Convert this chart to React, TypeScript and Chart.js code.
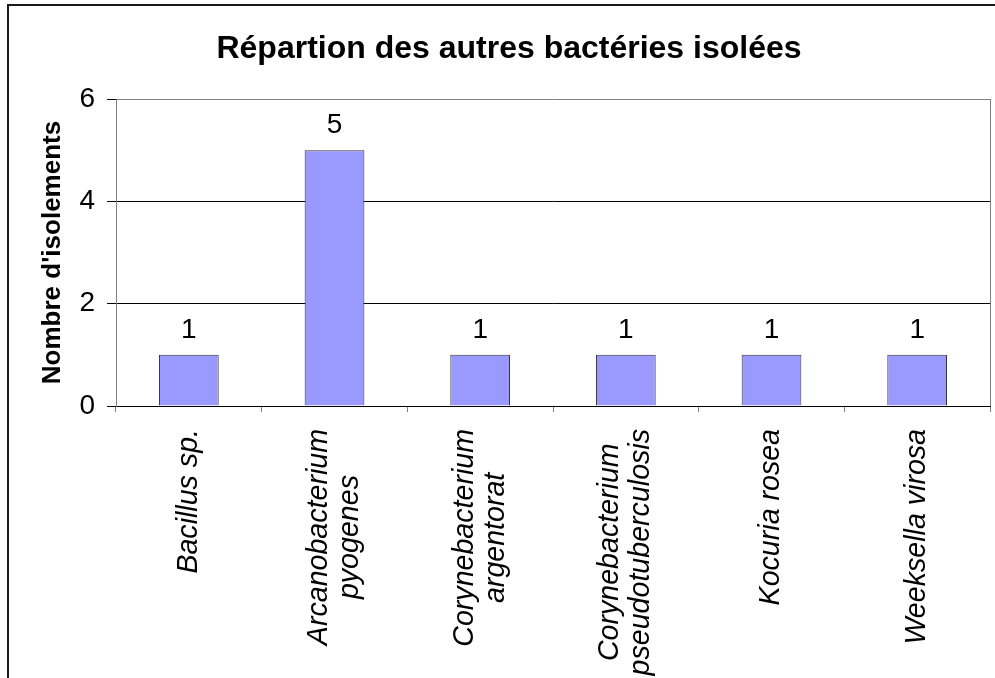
import React, { useEffect, useRef } from "react";
import { Chart, registerables } from "chart.js";

Chart.register(...registerables);

const FONT = '"Liberation Sans", Arial, sans-serif';

const titleText = "Répartion des autres bactéries isolées";
const yAxisTitle = "Nombre d'isolements";
const categories: string[][] = [
  ["Bacillus sp."],
  ["Arcanobacterium", "pyogenes"],
  ["Corynebacterium", "argentorat"],
  ["Corynebacterium", "pseudotuberculosis"],
  ["Kocuria rosea"],
  ["Weeksella virosa"],
];
const counts: number[] = [1, 5, 1, 1, 1, 1];
const yMin = 0;
const yMax = 6;
const yStep = 2;

const decorPlugin = {
  id: "decor",
  afterDatasetsDraw(chart: any) {
    const ctx = chart.ctx;
    const meta = chart.getDatasetMeta(0);
    ctx.save();
    ctx.fillStyle = "#000";
    ctx.font = `28px ${FONT}`;
    ctx.textAlign = "center";
    ctx.textBaseline = "alphabetic";
    meta.data.forEach((bar: any, i: number) => {
      ctx.fillText(String(chart.data.datasets[0].data[i]), bar.x, bar.y - 17);
    });
    ctx.restore();
  },
  afterDraw(chart: any) {
    const ctx = chart.ctx;
    const area = chart.chartArea;
    const xScale = chart.scales.x;
    ctx.save();
    // plot area right border
    ctx.strokeStyle = "#808080";
    ctx.lineWidth = 1;
    ctx.beginPath();
    ctx.moveTo(Math.round(area.right) + 0.5, area.top);
    ctx.lineTo(Math.round(area.right) + 0.5, area.bottom);
    ctx.stroke();
    // outer frame
    ctx.strokeStyle = "#1a1a1a";
    ctx.lineWidth = 2;
    ctx.strokeRect(8, 5, 3000, 3000);
    // x category labels (rotated, lines centered)
    ctx.fillStyle = "#000";
    ctx.font = `italic 28.6px ${FONT}`;
    ctx.textAlign = "center";
    ctx.textBaseline = "middle";
    const lh = 31;
    const labels = chart.data.labels as string[][];
    labels.forEach((lines: string[], i: number) => {
      const x = xScale.getPixelForValue(i);
      const w = Math.max(...lines.map((l) => ctx.measureText(l).width));
      ctx.save();
      ctx.translate(x, area.bottom + 23);
      ctx.rotate(-Math.PI / 2);
      lines.forEach((line, j) => {
        const off = (j - (lines.length - 1) / 2) * lh;
        ctx.fillText(line, -w / 2, off);
      });
      ctx.restore();
    });
    ctx.restore();
  },
};

export default function App() {
  const ref = useRef<HTMLCanvasElement | null>(null);
  useEffect(() => {
    if (!ref.current) return;
    const chart = new Chart(ref.current, {
      type: "bar",
      data: {
        labels: categories,
        datasets: [
          {
            data: counts,
            backgroundColor: "#9999FF",
            borderColor: "#333333",
            borderWidth: 1,
            categoryPercentage: 1,
            barPercentage: 0.41,
          },
        ],
      },
      options: {
        responsive: false,
        animation: false,
        devicePixelRatio: 1,
        layout: { padding: { left: 28, right: 5, top: 0, bottom: 0 } },
        plugins: {
          legend: { display: false },
          tooltip: { enabled: false },
          title: {
            display: true,
            text: titleText,
            color: "#000",
            font: { family: FONT, size: 32, weight: "bold", lineHeight: 1.2 },
            padding: { top: 30, bottom: 30.6 },
          },
        },
        scales: {
          x: {
            type: "category",
            offset: true,
            grid: {
              display: true,
              offset: true,
              drawOnChartArea: false,
              drawTicks: true,
              tickLength: 6,
              tickColor: "#808080",
            },
            border: { display: true, color: "#000", width: 1 },
            ticks: { display: false },
            afterFit: (s: any) => {
              s.height = 272;
            },
          },
          y: {
            min: yMin,
            max: yMax,
            ticks: {
              stepSize: yStep,
              color: "#000",
              font: { family: FONT, size: 28 },
              padding: 12,
            },
            grid: {
              color: (c: any) => (c.tick && c.tick.value === yMax ? "#808080" : "#000"),
              tickColor: "#000",
              tickLength: 9,
              lineWidth: 1,
            },
            border: { display: true, color: "#808080", width: 1 },
            title: {
              display: true,
              text: yAxisTitle,
              color: "#000",
              font: { family: FONT, size: 26, weight: "bold", lineHeight: 1.2 },
              padding: { top: 9, bottom: 0 },
            },
            afterFit: (s: any) => {
              s.width = 88;
            },
          },
        },
      },
      plugins: [decorPlugin],
    } as any);
    return () => chart.destroy();
  }, []);
  return (
    <canvas
      ref={ref}
      width={995}
      height={678}
      style={{ position: "absolute", left: 0, top: 0, display: "block" }}
    />
  );
}
